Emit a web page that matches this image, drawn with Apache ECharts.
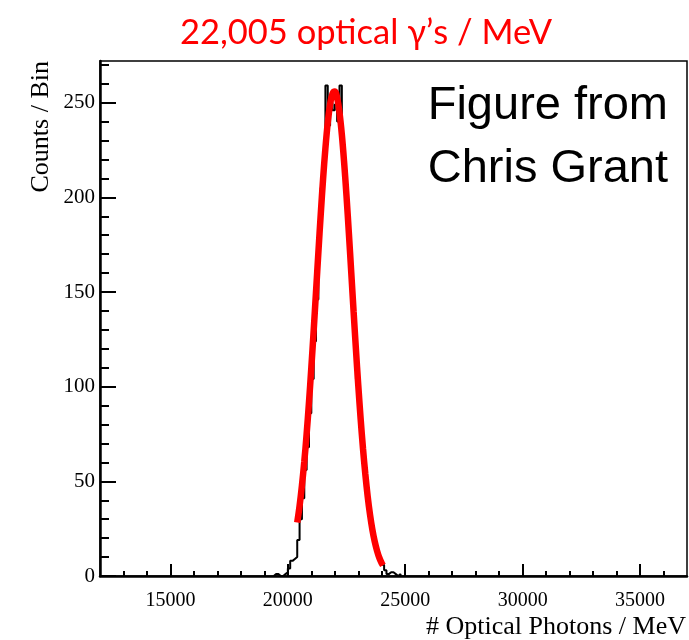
<!DOCTYPE html>
<html><head><meta charset="utf-8">
<script src="https://cdn.jsdelivr.net/npm/echarts@6/dist/echarts.min.js"></script>
<style>html,body{margin:0;padding:0;background:#fff}#c{width:689px;height:640px}</style>
</head><body><div id="c"></div>
<script>
// Histogram: bins of width 100 starting at 19400
const binStart = 19400;
const binWidth = 100;
const binCounts = [1,1,0,0,1,2,4,8,9,10,
  19,30,41,56,68,86,104,124,146,178,
  205,224,259,238,250,246,249,240,259,228,
  212,192,171,148,127,104,86,72,59,47,
  37,28,21,15,11,8,6,3,1,2,
  2,1,0,1];
// Fit curve
const fitX = [20400,20500,20600,20700,20800,20900,21000,21100,21200,21300,21400,21500,21600,21700,21800,21900,22000,22100,22200,22300,22400,22500,22600,22700,22800,22900,23000,23100,23200,23300,23400,23500,23600,23700,23800,23900,24000,24050];
const fitY = [28.2,37.0,47.7,60.3,75.0,91.6,110.0,129.6,150.1,170.8,190.8,209.5,225.9,239.4,249.1,254.7,255.9,252.5,244.7,233.1,218.0,200.4,180.9,160.5,139.8,119.7,100.6,83.1,67.4,53.8,42.1,32.4,24.5,18.2,13.3,9.5,6.7,5.6];
const xMajor = [15000,20000,25000,30000,35000];
const xMinor = [13000,14000,16000,17000,18000,19000,21000,22000,23000,24000,26000,27000,28000,29000,31000,32000,33000,34000,36000];
const yMajor = [0,50,100,150,200,250];
const yMinor = [10,20,30,40,60,70,80,90,110,120,130,140,160,170,180,190,210,220,230,240,260,270];

const histData = [[binStart, 0]];
binCounts.forEach((c, i) => histData.push([binStart + i * binWidth, c]));
histData.push([binStart + binCounts.length * binWidth, binCounts[binCounts.length - 1]]);
histData.push([binStart + binCounts.length * binWidth, 0]);
const fitData = fitX.map((x, i) => [x, fitY[i]]);

const serif = '"Liberation Serif", "Times New Roman", serif';
const chart = echarts.init(document.getElementById('c'));
chart.setOption({
  animation: false,
  grid: {left: 100, right: 2, top: 61, bottom: 64, show: true, borderColor: '#000', borderWidth: 1.5, backgroundColor: 'transparent'},
  xAxis: [
    {type: 'value', min: 12000, max: 37000, position: 'bottom',
     axisLine: {lineStyle: {color: '#000', width: 2.5}},
     axisTick: {inside: true, length: 12, customValues: xMajor, lineStyle: {color: '#000', width: 2}},
     axisLabel: {customValues: xMajor, margin: 15, color: '#000', fontFamily: serif, fontSize: 20, formatter: v => String(v)},
     splitLine: {show: false}},
    {type: 'value', min: 12000, max: 37000, position: 'bottom',
     axisLine: {show: false},
     axisTick: {inside: true, length: 5, customValues: xMinor, lineStyle: {color: '#000', width: 2}},
     axisLabel: {show: false}, splitLine: {show: false}}
  ],
  yAxis: [
    {type: 'value', min: 0, max: 272, position: 'left',
     axisLine: {show: true, lineStyle: {color: '#000', width: 2.5}},
     axisTick: {show: true, inside: true, length: 16, customValues: yMajor, lineStyle: {color: '#000', width: 2}},
     axisLabel: {customValues: yMajor, margin: 5, color: '#000', fontFamily: serif, fontSize: 21, formatter: v => String(v)},
     splitLine: {show: false}},
    {type: 'value', min: 0, max: 272, position: 'left',
     axisLine: {show: false},
     axisTick: {show: true, inside: true, length: 9, customValues: yMinor, lineStyle: {color: '#000', width: 2}},
     axisLabel: {show: false}, splitLine: {show: false}}
  ],
  series: [
    {type: 'line', xAxisIndex: 0, yAxisIndex: 0, step: 'end', symbol: 'none', data: histData,
     lineStyle: {color: '#000', width: 2}, z: 2},
    {type: 'line', xAxisIndex: 0, yAxisIndex: 0, smooth: 0.4, symbol: 'none', data: fitData,
     lineStyle: {color: '#ff0000', width: 6.5}, z: 3}
  ],
  graphic: [
    {type: 'text', x: 366, y: 33, style: {text: '22,005 optical γ’s / MeV', fill: '#ff0000', font: '34.5px Lato, "Noto Sans", sans-serif', textAlign: 'center', textVerticalAlign: 'middle'}},
    {type: 'text', x: 668, y: 106, style: {text: 'Figure from', fill: '#000', font: '47px "Liberation Sans", Arial, sans-serif', textAlign: 'right', textVerticalAlign: 'middle'}},
    {type: 'text', x: 668, y: 169, style: {text: 'Chris Grant', fill: '#000', font: '47px "Liberation Sans", Arial, sans-serif', textAlign: 'right', textVerticalAlign: 'middle'}},
    {type: 'text', x: 41, y: 61, rotation: Math.PI / 2, style: {text: 'Counts / Bin', fill: '#000', font: '26px ' + serif, textAlign: 'right', textVerticalAlign: 'middle'}},
    {type: 'text', x: 686, y: 627, style: {text: '# Optical Photons / MeV', fill: '#000', font: '26px ' + serif, textAlign: 'right', textVerticalAlign: 'middle'}}
  ]
});
</script></body></html>
